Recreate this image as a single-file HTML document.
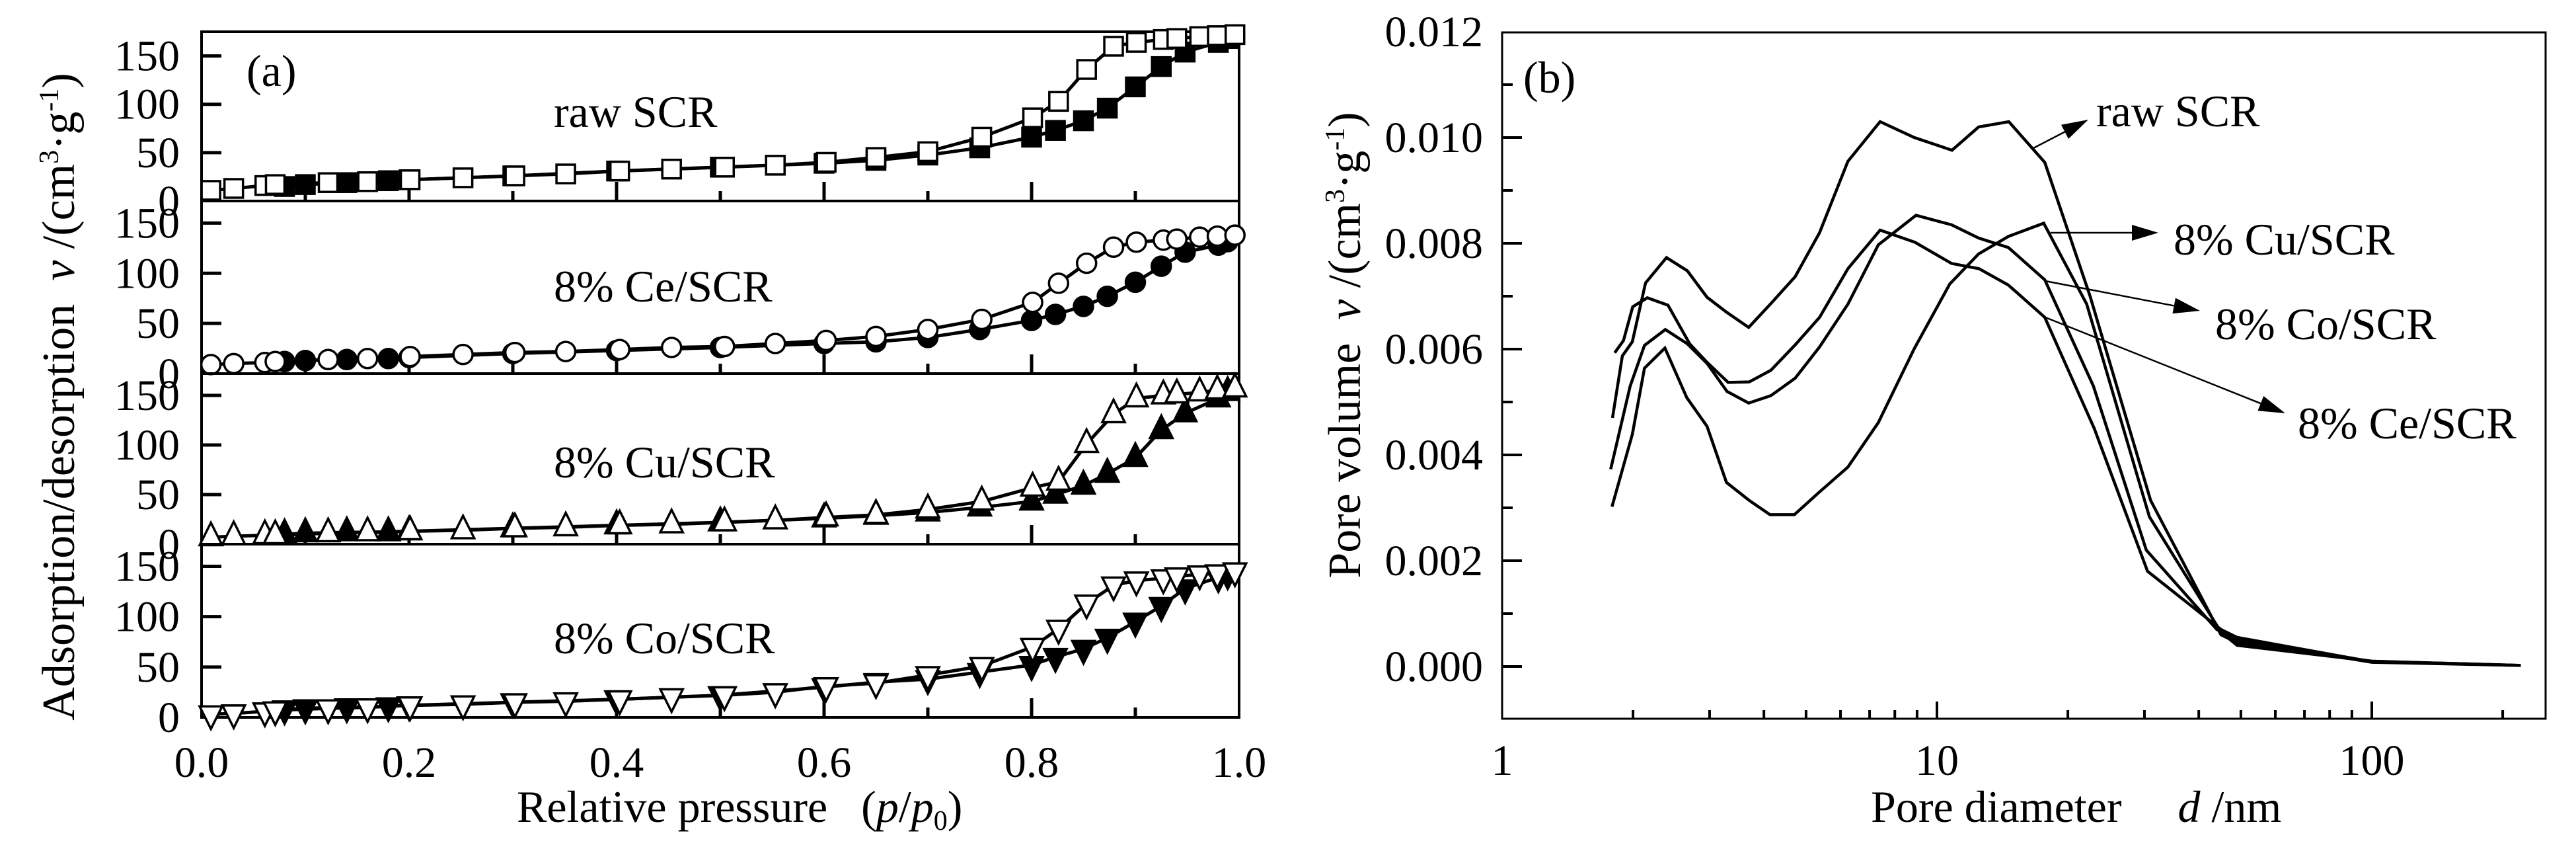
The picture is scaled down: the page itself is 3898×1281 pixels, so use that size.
<!DOCTYPE html>
<html><head><meta charset="utf-8"><style>
html,body{margin:0;padding:0;background:#fff;}
svg, svg text{font-family:"Liberation Serif","Times New Roman",serif;}
</style></head><body>
<svg id="fig" width="3898" height="1276" viewBox="0 0 3898 1276" xmlns="http://www.w3.org/2000/svg" font-family="Liberation Serif, serif">
<g id="pa"></g>
<g id="pb"></g>
</svg>
<script>
// ---------- Panel (a) data ----------
const aYTicks = [50, 100, 150];
const aXTicks = [0.0, 0.2, 0.4, 0.6, 0.8, 1.0];
const aXTickLabels = ["0.0", "0.2", "0.4", "0.6", "0.8", "1.0"];
const aNames = ["raw SCR", "8% Ce/SCR", "8% Cu/SCR", "8% Co/SCR"];
const aMarkers = ["square", "circle", "up", "down"];
const adsP = [0.009,0.031,0.061,0.071,0.122,0.16,0.201,0.252,0.302,0.351,0.403,0.453,0.504,0.553,0.602,0.65,0.70,0.752,0.801,0.826,0.853,0.879,0.901,0.927,0.94,0.962,0.979,0.996];
const rawAds = [11,13,16,17,19,20,22,24,26,28,31,33,35,37,40,45,51,66,86,103,136,160,164,167,168,170,171,172];
const ceAds  = [9,10,11,12,14,15,17,19,21,22,24,26,27,30,33,37,44,54,71,90,110,126,131,133,134,136,137,138];
const cuAds  = [7,8,9,9,11,12,13,14,16,17,19,20,22,24,27,29.5,35,43,57,63,101,131,147,150,151,153,155,157];
const coAds  = [3,4,6,7,9,10,12,13,15,16,18,20,22,25,31,34,42,51,70,88,113,131,136,138,140,142,143,145];
const desP = [0.989,0.98,0.948,0.925,0.9,0.873,0.85,0.823,0.8,0.75,0.7,0.65,0.6,0.5,0.4,0.3,0.2,0.18,0.14,0.1,0.08];
const rawDes = [168,164,154,139,118,96,83,73,66,55,47.5,42,39,35,31,26,22,21,19,17,15];
const ceDes  = [131.5,128,121,107,91,77,67,59,53,44,36,31.6,30,26,23,20,16,15,14,13,12];
const cuDes  = [153.5,147,132,115,87,71,59,50,43,37,32,28.7,26,22,19,16,13,12,12,11,10];
const coDes  = [142,139,128,110.6,95,79,68,60,52,45,38,35,30,22,18,15,12,11,10,9,8];
const aAds = [rawAds, ceAds, cuAds, coAds];
const aDes = [rawDes, ceDes, cuDes, coDes];

// ---------- Panel (b) data ----------
const bYTicks = [0.000,0.002,0.004,0.006,0.008,0.010,0.012];
const bYTickLabels = ["0.000","0.002","0.004","0.006","0.008","0.010","0.012"];
const bXTicks = [1,10,100];
const bXTickLabels = ["1","10","100"];
const rawD = [1.794,1.89,1.993,2.137,2.388,2.667,2.96,3.28,3.69,4.16,4.72,5.37,6.24,7.4,8.87,10.83,12.47,14.63,17.7,22.5,31,45,49,100,220];
const rawV = [0.0047,0.00587,0.00614,0.00725,0.00773,0.00748,0.00698,0.0067,0.00641,0.00687,0.00737,0.0082,0.00955,0.0103,0.0100,0.00976,0.0102,0.0103,0.00953,0.0070,0.00314,0.0006,0.00045,0.0001,0.00002];
const ceD = [1.815,1.901,1.997,2.157,2.407,2.70,2.96,3.31,3.70,4.15,4.72,5.37,6.24,7.4,8.9,10.8,12.5,14.6,17.7,23,30.5,45,49,100,220];
const ceV = [0.00593,0.00616,0.0068,0.00697,0.00683,0.0061,0.00575,0.00537,0.00538,0.0056,0.00608,0.0066,0.00752,0.00825,0.00802,0.00762,0.00752,0.00721,0.0066,0.0045,0.0018,0.0007,0.00055,0.00009,0.00002];
const cuD = [1.789,1.993,2.125,2.368,2.66,2.96,3.28,3.70,4.13,4.70,5.37,6.24,7.33,8.87,10.7,12.47,14.6,17.6,22.1,30.8,45,49,100,220];
const cuV = [0.00302,0.00439,0.00564,0.00602,0.00508,0.00454,0.00348,0.00314,0.00287,0.00287,0.0033,0.00377,0.00461,0.00601,0.00723,0.0078,0.00813,0.00838,0.00685,0.00283,0.00065,0.0004,0.0001,0.00002];
const coD = [1.777,1.97,2.125,2.373,2.667,2.96,3.29,3.69,4.15,4.72,5.37,6.24,7.33,8.95,10.8,12.47,14.6,17.7,22.9,30.3,44,49,100,220];
const coV = [0.00373,0.0053,0.00607,0.00637,0.0061,0.00573,0.0052,0.00498,0.00512,0.00545,0.00604,0.00685,0.00797,0.00853,0.00835,0.0081,0.00792,0.00731,0.0053,0.0022,0.0007,0.0005,0.00008,0.00002];
const bSeriesD = [rawD, cuD, coD, ceD];
const bSeriesV = [rawV, cuV, coV, ceV];
const bNames = ["raw SCR", "8% Cu/SCR", "8% Co/SCR", "8% Ce/SCR"];

const NS = "http://www.w3.org/2000/svg";
const FF = "Liberation Serif, Times New Roman, serif";
function mk(tag, attrs, parent) {
  const e = document.createElementNS(NS, tag);
  for (const k in attrs) e.setAttribute(k, attrs[k]);
  parent.appendChild(e);
  return e;
}
function txt(s, attrs, parent) { attrs["font-family"] = FF; const t = mk("text", attrs, parent); t.textContent = s; return t; }

// ---------- Panel (a) ----------
const pa = document.getElementById("pa");
const AX0 = 305, AX1 = 1875;
const panelTops = [48, 304, 565, 823];
const panelBots = [304, 565, 823, 1085];
const aYMax = [175, 172, 172, 172];
function ax(p) { return AX0 + p * (AX1 - AX0); }
function ay(i, v) { return panelBots[i] - v / aYMax[i] * (panelBots[i] - panelTops[i]); }

for (let i = 0; i < 4; i++) {
  const g = mk("g", {}, pa);
  
  
  const fr = mk("rect", {x: AX0, y: panelTops[i], width: AX1 - AX0, height: panelBots[i] - panelTops[i], fill: "none", stroke: "#000", "stroke-width": 4}, g);
  
  
  const ticks = [0].concat(aYTicks);
  for (const t of ticks) {
    const y = ay(i, t);
    if (t > 0) {
      const tk = mk("line", {x1: AX0, x2: AX0 + 30, y1: y, y2: y, stroke: "#000", "stroke-width": 5}, g);
      
      
    }
    const lb = txt(String(t), {x: 272, y: y + 22, "font-size": 66, "text-anchor": "end"}, g);
    
    
  }
  for (let k = 1; k < 10; k++) {
    const x = ax(k / 10), len = (k % 2 === 0) ? 29 : 15;
    const tk = mk("line", {x1: x, x2: x, y1: panelBots[i], y2: panelBots[i] - len, stroke: "#000", "stroke-width": 5}, g);
    
    
  }
  const series = [[desP, aDes[i], "#000", "desorption"], [adsP, aAds[i], "#fff", "adsorption"]];
  for (const [P, V, fill, kind] of series) {
    const pts = P.map((p, j) => ax(p) + "," + ay(i, V[j])).join(" ");
    const pl = mk("polyline", {points: pts, fill: "none", stroke: "#000", "stroke-width": 5, "stroke-linejoin": "round"}, g);
    
    
    P.forEach((p, j) => {
      const x = ax(p), y = ay(i, V[j]);
      let m;
      const st = {fill: fill, stroke: "#000", "stroke-width": 3.5};
      if (aMarkers[i] === "square") m = mk("rect", Object.assign({x: x - 14, y: y - 14, width: 28, height: 28}, st), g);
      else if (aMarkers[i] === "circle") m = mk("circle", Object.assign({cx: x, cy: y, r: 14.5}, st), g);
      else if (aMarkers[i] === "up") m = mk("polygon", Object.assign({points: `${x},${y-22} ${x-17},${y+12} ${x+17},${y+12}`}, st), g);
      else m = mk("polygon", Object.assign({points: `${x},${y+22} ${x-17},${y-12} ${x+17},${y-12}`}, st), g);
      
      
    });
  }
}
const aLabelY = [192, 456, 722, 988];
aNames.forEach((n, i) => {
  const t = txt(n, {x: 838, y: aLabelY[i], "font-size": 68}, pa);
  
  
});
aXTicks.forEach((p, k) => {
  const t = txt(aXTickLabels[k], {x: ax(p), y: 1175, "font-size": 66, "text-anchor": "middle"}, pa);
  
  
});
</script>
<script>
(function(){
  const pa = document.getElementById("pa");
  function t(html, attrs, name){ const e = document.createElementNS(NS,"text"); attrs["font-family"] = FF; for(const k in attrs) e.setAttribute(k, attrs[k]); e.innerHTML = html; pa.appendChild(e);
    
    
  }
  t("(a)", {x: 373, y: 130, "font-size": 68}, "panel-a-label");
  t('Relative pressure &#160; (<tspan font-style="italic">p</tspan>/<tspan font-style="italic">p</tspan><tspan font-size="42" dy="12">0</tspan><tspan dy="-12">)</tspan>', {x: 782, y: 1243, "font-size": 68}, "x-axis-title");
  t('Adsorption/desorption &#160;<tspan font-style="italic">v</tspan> /(cm<tspan font-size="42" dy="-24">3</tspan><tspan dy="24">·g</tspan><tspan font-size="42" dy="-24">-1</tspan><tspan dy="24">)</tspan>', {x: 0, y: 0, "font-size": 70, "text-anchor": "middle", transform: "translate(112,600) rotate(-90)"}, "y-axis-title");
})();
</script>
<script>
(function(){
const pb = document.getElementById("pb");
const BX0 = 2273, BX1 = 3852, BY0 = 49, BY1 = 1087, DEC = 658;
function bx(d) { return BX0 + Math.log10(d) * DEC; }
function by(v) { return 1008 - v * 80000; }
function mk(tag, attrs) { if (tag === "text") attrs["font-family"] = FF; const e = document.createElementNS(NS, tag); for (const k in attrs) e.setAttribute(k, attrs[k]); pb.appendChild(e); return e; }
const fr = mk("rect", {x: BX0, y: BY0, width: BX1 - BX0, height: BY1 - BY0, fill: "none", stroke: "#000", "stroke-width": 3});


for (let k = 0; k <= 11; k++) {
  const v = k * 0.001, y = by(v), len = (k % 2 === 0) ? 30 : 16;
  const tk = mk("line", {x1: BX0, x2: BX0 + len, y1: y, y2: y, stroke: "#000", "stroke-width": 4});
  
  
}
bYTicks.forEach((v, k) => {
  const t = mk("text", {x: 2244, y: by(v) + 22, "font-size": 66, "text-anchor": "end"});
  t.textContent = bYTickLabels[k];
  
  
});
for (let dec = 1; dec <= 100; dec *= 10) {
  for (let m = 1; m <= 9; m++) {
    const d = dec * m; if (d > 240 || d === 1) continue;
    const x = bx(d), len = (m === 1) ? 26 : 13;
    const tk = mk("line", {x1: x, x2: x, y1: BY1, y2: BY1 - len, stroke: "#000", "stroke-width": 4});
    
    
  }
}
bXTicks.forEach((d, k) => {
  const t = mk("text", {x: bx(d), y: 1172, "font-size": 66, "text-anchor": "middle"});
  t.textContent = bXTickLabels[k];
  
  
});
bSeriesD.forEach((D, i) => {
  const pts = D.map((d, j) => bx(d) + "," + by(bSeriesV[i][j])).join(" ");
  const pl = mk("polyline", {points: pts, fill: "none", stroke: "#000", "stroke-width": 4.5, "stroke-linejoin": "miter"});
  
  
});
const arrows = [[3077,224,3160,181,3172,191],[3103,352,3266,352,3289,385],[3095,425,3329,470,3352,513],[3095,480,3458,625,3477,663]];
arrows.forEach((a, i) => {
  const [x1,y1,x2,y2,lx,ly] = a;
  const ang = Math.atan2(y2-y1, x2-x1), L = 40, W = 12;
  const bxp = x2 - L*Math.cos(ang), byp = y2 - L*Math.sin(ang);
  const ln = mk("line", {x1: x1, y1: y1, x2: bxp, y2: byp, stroke: "#000", "stroke-width": 2.5});
  
  
  const hd = mk("polygon", {points: `${x2},${y2} ${bxp - W*Math.sin(ang)},${byp + W*Math.cos(ang)} ${bxp + W*Math.sin(ang)},${byp - W*Math.cos(ang)}`, fill: "#000"});
  
  
  const t = mk("text", {x: lx, y: ly, "font-size": 68});
  t.textContent = bNames[i];
  
  
});
const lb = mk("text", {x: 2305, y: 140, "font-size": 68});
lb.textContent = "(b)";


const xt = mk("text", {x: 2831, y: 1243, "font-size": 68});
xt.innerHTML = 'Pore diameter &#160;&#160;&#160; <tspan font-style="italic">d</tspan> /nm';


const yt = mk("text", {x: 0, y: 0, "font-size": 70, "text-anchor": "middle", transform: "translate(2058,522) rotate(-90)"});
yt.innerHTML = 'Pore volume &#160;<tspan font-style="italic">v</tspan> /(cm<tspan font-size="42" dy="-24">3</tspan><tspan dy="24">·g</tspan><tspan font-size="42" dy="-24">-1</tspan><tspan dy="24">)</tspan>';


})();
</script>
</body></html>
